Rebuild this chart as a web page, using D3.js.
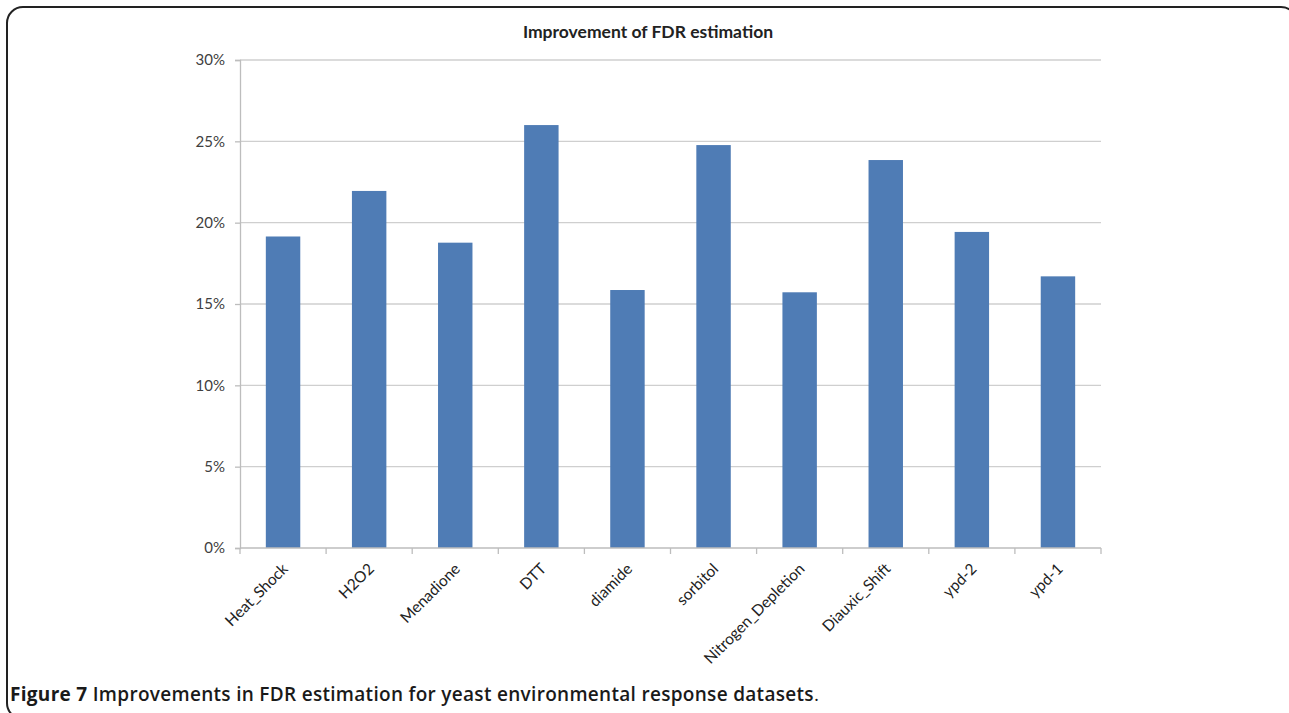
<!DOCTYPE html>
<html>
<head>
<meta charset="utf-8">
<script src="https://cdn.jsdelivr.net/npm/d3@7"></script>
<style>
  html, body { margin: 0; padding: 0; background: #fff; }
  svg { display: block; }
</style>
</head>
<body>
<svg id="chart" width="1289" height="713"></svg>
<script>
// Improvement of FDR estimation per yeast environmental response dataset (percent)
const categories = ["Heat_Shock", "H2O2", "Menadione", "DTT", "diamide", "sorbitol",
  "Nitrogen_Depletion", "Diauxic_Shift", "ypd-2", "ypd-1"];
const improvement = [19.15, 21.95, 18.77, 26.0, 15.86, 24.77, 15.72, 23.85, 19.43, 16.7];
const yTicks = [0, 5, 10, 15, 20, 25, 30];
const chartTitle = "Improvement of FDR estimation";

const svg = d3.select("#chart");

// Panel frame
svg.append("rect")
  .attr("x", 7).attr("y", 7)
  .attr("width", 1290).attr("height", 712)
  .attr("rx", 16).attr("ry", 16)
  .attr("fill", "none").attr("stroke", "#222").attr("stroke-width", 2);

const plot = { left: 240, right: 1101, top: 60, bottom: 548 };

const x = d3.scaleBand()
  .domain(categories)
  .range([plot.left, plot.right])
  .paddingInner(0.6).paddingOuter(0.3);

const y = d3.scaleLinear().domain([0, 30]).range([plot.bottom, plot.top]);

// Horizontal gridlines
svg.append("g")
  .selectAll("line")
  .data(yTicks.filter(t => t > 0))
  .join("line")
  .attr("x1", plot.left).attr("x2", plot.right)
  .attr("y1", d => y(d)).attr("y2", d => y(d))
  .attr("stroke", "#cfcfcf").attr("stroke-width", 1.3);

// Y axis
const yAxis = svg.append("g")
  .attr("transform", `translate(${plot.left},0)`)
  .call(d3.axisLeft(y).tickValues(yTicks).tickSize(5).tickPadding(10)
    .tickFormat(d => d + "%"));
yAxis.select(".domain").attr("stroke", "#bdbdbd").attr("stroke-width", 1.3);
yAxis.selectAll(".tick line").attr("stroke", "#bdbdbd").attr("stroke-width", 1.3);
yAxis.selectAll(".tick text")
  .attr("font-family", "Lato, 'Open Sans', sans-serif")
  .attr("font-size", 15).attr("fill", "#404040");

// Bars
svg.append("g")
  .selectAll("rect")
  .data(categories.map((c, i) => ({ c, v: improvement[i] })))
  .join("rect")
  .attr("x", d => x(d.c))
  .attr("width", x.bandwidth())
  .attr("y", d => y(d.v))
  .attr("height", d => y(0) - y(d.v))
  .attr("fill", "#4f7cb5");

// X axis baseline with boundary ticks
const step = x.step();
const bounds = d3.range(categories.length + 1).map(i => plot.left + i * step);
svg.append("line")
  .attr("x1", plot.left).attr("x2", plot.right)
  .attr("y1", plot.bottom).attr("y2", plot.bottom)
  .attr("stroke", "#bdbdbd").attr("stroke-width", 1.3);
svg.append("g")
  .selectAll("line")
  .data(bounds)
  .join("line")
  .attr("x1", d => d).attr("x2", d => d)
  .attr("y1", plot.bottom).attr("y2", plot.bottom + 6)
  .attr("stroke", "#bdbdbd").attr("stroke-width", 1.3);

// Rotated category labels
svg.append("g")
  .selectAll("text")
  .data(categories)
  .join("text")
  .attr("transform", d => `translate(${x(d) + x.bandwidth() / 2 + 2},${plot.bottom + 18}) rotate(-45)`)
  .attr("text-anchor", "end")
  .attr("dy", "0.35em")
  .attr("font-family", "Lato, 'Open Sans', sans-serif")
  .attr("font-size", 15.5)
  .attr("fill", "#222")
  .text(d => d);

// Chart title
svg.append("text")
  .attr("x", 648)
  .attr("y", 38)
  .attr("text-anchor", "middle")
  .attr("font-family", "Lato, 'Open Sans', sans-serif")
  .attr("font-weight", "bold")
  .attr("font-size", 17.5)
  .attr("fill", "#222")
  .text(chartTitle);

// Figure caption
const cap = svg.append("text")
  .attr("x", 10).attr("y", 701)
  .attr("font-family", "'Open Sans', sans-serif")
  .attr("font-size", 19)
  .attr("letter-spacing", 0.3)
  .attr("fill", "#1a1a1a");
cap.append("tspan").attr("font-weight", "bold").text("Figure 7");
cap.append("tspan").attr("font-weight", 600).text(" Improvements in FDR estimation for yeast environmental response datasets");
cap.append("tspan").attr("font-weight", "normal").text(".");
</script>
</body>
</html>
